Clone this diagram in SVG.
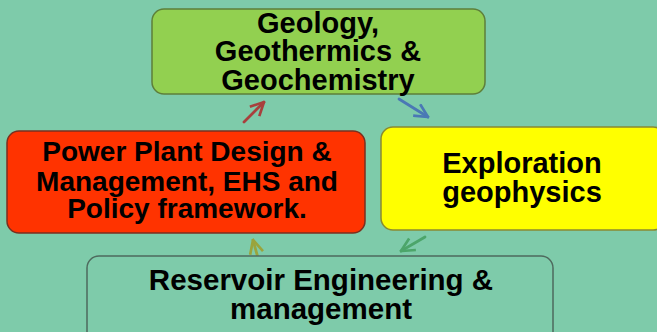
<svg xmlns="http://www.w3.org/2000/svg" width="657" height="332" viewBox="0 0 657 332">
<style>
.box{stroke-width:1.5}
.t{font-family:"Liberation Sans",Arial,sans-serif;font-weight:bold;fill:#000;text-anchor:middle}
.c{fill:none;stroke-width:2.8;stroke-linecap:round}
</style>
<defs>
<marker id="mr" viewBox="0 0 12 12" refX="11" refY="6" markerWidth="16" markerHeight="16" markerUnits="userSpaceOnUse" orient="auto"><path d="M1,1 L11,6 L1,11" fill="none" stroke="#A8403D" stroke-width="2"/></marker>
<marker id="mb" viewBox="0 0 12 12" refX="11" refY="6" markerWidth="16" markerHeight="16" markerUnits="userSpaceOnUse" orient="auto"><path d="M1,1 L11,6 L1,11" fill="none" stroke="#4A78B5" stroke-width="2"/></marker>
<marker id="mg" viewBox="0 0 12 12" refX="11" refY="6" markerWidth="16" markerHeight="16" markerUnits="userSpaceOnUse" orient="auto"><path d="M1,1 L11,6 L1,11" fill="none" stroke="#4CA56A" stroke-width="2"/></marker>
<marker id="mo" viewBox="0 0 12 12" refX="11" refY="6" markerWidth="16" markerHeight="16" markerUnits="userSpaceOnUse" orient="auto"><path d="M1,1 L11,6 L1,11" fill="none" stroke="#9AA43C" stroke-width="2"/></marker>
</defs>
<rect width="657" height="332" fill="#7ECBAA"/>
<g id="connectors">
<line class="c" x1="244" y1="122" x2="264" y2="102" stroke="#A8403D" marker-end="url(#mr)"/>
<line class="c" x1="399" y1="99" x2="428" y2="117" stroke="#4A78B5" marker-end="url(#mb)"/>
<line class="c" x1="425" y1="237" x2="401" y2="251" stroke="#4CA56A" marker-end="url(#mg)"/>
<line class="c" x1="258" y1="258" x2="253" y2="240" stroke="#9AA43C" marker-end="url(#mo)"/>
</g>
<g id="geology">
<rect class="box" x="152" y="9" width="333" height="85" rx="12" fill="#92D050" stroke="#5E7F3A"/>
<text class="t" font-size="29"><tspan x="318" y="33">Geology,</tspan><tspan x="318" y="61">Geothermics &amp;</tspan><tspan x="318" y="90">Geochemistry</tspan></text>
</g>
<g id="powerplant">
<rect class="box" x="7" y="131" width="358" height="102" rx="12" fill="#FF3300" stroke="#7A3020"/>
<text class="t" font-size="28"><tspan x="187" y="161">Power Plant Design &amp;</tspan><tspan x="187" y="191">Management, EHS and</tspan><tspan x="187" y="218">Policy framework.</tspan></text>
</g>
<g id="exploration">
<rect class="box" x="381" y="127" width="284" height="103" rx="12" fill="#FFFF00" stroke="#8A8A30"/>
<text class="t" font-size="29"><tspan x="522" y="173">Exploration</tspan><tspan x="522" y="202">geophysics</tspan></text>
</g>
<g id="reservoir">
<rect class="box" x="87" y="256" width="466" height="90" rx="12" fill="#7ECBAA" stroke="#4E6A5E"/>
<text class="t" font-size="29.5"><tspan x="321" y="290">Reservoir Engineering &amp;</tspan><tspan x="321" y="319">management</tspan></text>
</g>
</svg>
